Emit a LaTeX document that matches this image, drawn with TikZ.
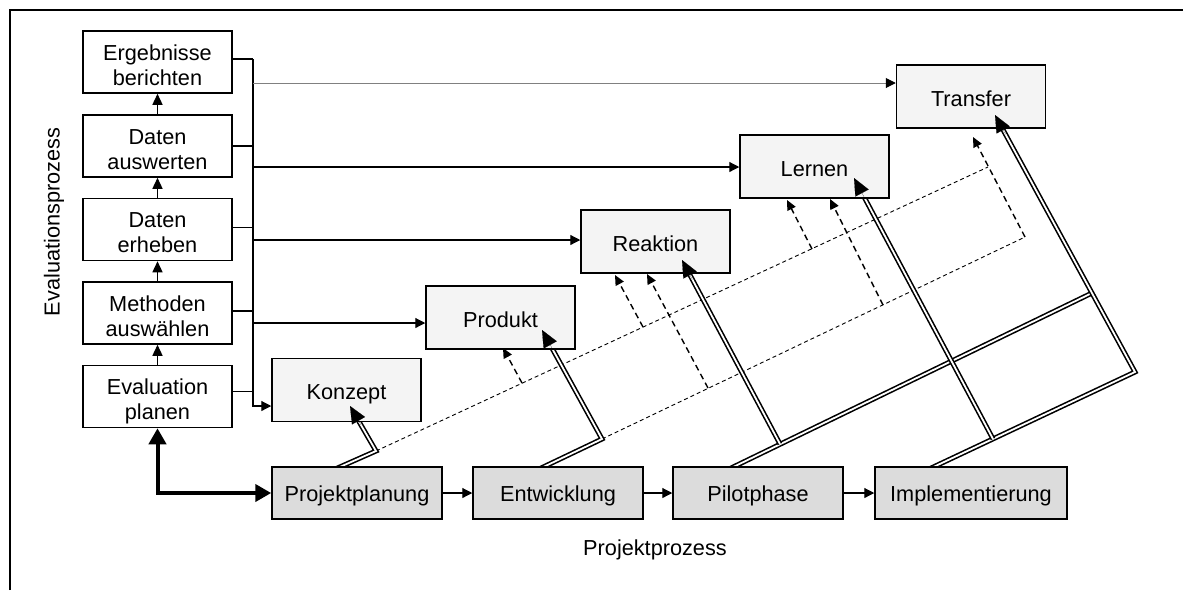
\documentclass[tikz,border=0pt]{standalone}
\usepackage{fontspec}
\setmainfont{Liberation Sans}
\usetikzlibrary{arrows.meta,calc}
\definecolor{levelfill}{HTML}{F4F4F4}
\definecolor{phasefill}{HTML}{DCDCDC}
\pgfdeclarelayer{bg}
\pgfsetlayers{bg,main}
\newcommand{\evtext}[2]{\begin{tabular}{@{}c@{}}\rule{0pt}{28.5pt}#1\\#2\end{tabular}}
\begin{document}
\begin{tikzpicture}[x=1pt,y=-1pt,
  every node/.style={font=\fontsize{21.7}{25}\selectfont, inner sep=0pt},
  evbox/.style={draw, line width=1.5pt, fill=white, minimum width=149pt, minimum height=62pt},
  lvbox/.style={draw, line width=1.5pt, fill=levelfill, minimum width=149pt, minimum height=63pt, text height=19.5pt, text depth=0pt},
  phbox/.style={draw, line width=1.5pt, fill=phasefill, minimum height=52pt, text height=17.6pt, text depth=0pt},
  thinarr/.style={line width=1.2pt, -{Triangle[length=10pt,width=10pt]}},
  uparr/.style={line width=1.3pt, -{Triangle[length=11pt,width=10pt]}},
  dbl/.style={line width=1.6pt, double=white, double distance=1.8pt},
  bigtip/.style={line width=0.1pt, -{Triangle[length=17pt,width=15pt]}},
  dasharr/.style={line width=1.4pt, dash pattern=on 6pt off 4pt, -{Triangle[length=10pt,width=9pt]}},
  dashthin/.style={line width=0.9pt, dash pattern=on 4pt off 3pt},
]
\useasboundingbox (0,0) rectangle (1183,590);
\begin{pgfonlayer}{bg}
  \fill[white] (0,0) rectangle (1183,590);
\end{pgfonlayer}
\draw[line width=1.5pt] (10,590) -- (10,10) -- (1183,10);

% evaluation process boxes
\node[evbox] (erg)  at (157.5,62)    {\evtext{Ergebnisse}{berichten}};
\node[evbox] (daus) at (157.5,146)   {\evtext{Daten}{auswerten}};
\node[evbox] (derh) at (157.5,229.5) {\evtext{Daten}{erheben}};
\node[evbox] (meth) at (157.5,313)   {\evtext{Methoden}{auswählen}};
\node[evbox] (evp)  at (157.5,396.5) {\evtext{Evaluation}{planen}};

% level boxes
\node[lvbox] (konz) at (346.5,390)   {Konzept};
\node[lvbox] (prod) at (500.5,317.5) {Produkt};
\node[lvbox] (reak) at (655.5,241.5) {Reaktion};
\node[lvbox] (lern) at (814.5,166.5) {Lernen};
\node[lvbox] (tran) at (971,96.5)    {Transfer};

% phase boxes
\node[phbox, minimum width=170pt] (pp)  at (357,493) {Projektplanung};
\node[phbox, minimum width=170pt] (ent) at (558,493) {Entwicklung};
\node[phbox, minimum width=170pt] (pil) at (758,493) {Pilotphase};
\node[phbox, minimum width=192pt] (imp) at (971,493) {Implementierung};

\node[rotate=90] (evlab) at (54,222) {Evaluationsprozess};
\node (pplab) at (655,550) {Projektprozess};

% coordinates
\coordinate (bustop) at (253,59);
\coordinate (busbot) at (253,406);
\coordinate (h1) at (253,83);
\coordinate (h2) at (253,167);
\coordinate (h3) at (253,240);
\coordinate (h4) at (253,323);

\coordinate (s1) at (333,470); \coordinate (c1) at (376,451); \coordinate (tK) at (350,406);
\coordinate (s2) at (537,470); \coordinate (c2) at (602,439); \coordinate (tP) at (542,330);
\coordinate (s3) at (727,470); \coordinate (j3) at (780,444); \coordinate (e3) at (1092,293); \coordinate (tR) at (682,260);
\coordinate (s4) at (927,470); \coordinate (j4) at (993,439); \coordinate (c4) at (1135,372);
\coordinate (tL) at (854,178); \coordinate (tT) at (995,115);
\coordinate (aE) at (988,167); \coordinate (bC) at (1025,237); \coordinate (tTd) at (973,137);
\coordinate (dP) at (522,383); \coordinate (tPd) at (503,348);
\coordinate (dR1) at (643,327); \coordinate (tR1) at (615,275);
\coordinate (dR2) at (708,388); \coordinate (tR2) at (647,274);
\coordinate (dL1) at (812,249); \coordinate (tL1) at (787,200);
\coordinate (dL2) at (883,305); \coordinate (tL2) at (830,199);

% evaluation chain
\draw[uparr] (evp.north) -- (meth.south);
\draw[uparr] (meth.north) -- (derh.south);
\draw[uparr] (derh.north) -- (daus.south);
\draw[uparr] (daus.north) -- (erg.south);

% bus
\draw[line width=1.5pt] ($(erg.east)+(0,-3)$) -- ($(erg.east -| bustop)+(0,-3)$);
\draw[line width=1.2pt] (daus.east) -- (daus.east -| bustop);
\draw[line width=1.2pt] ($(derh.east)+(0,-2)$) -- ($(derh.east -| bustop)+(0,-2)$);
\draw[line width=1.2pt] ($(meth.east)+(0,-2)$) -- ($(meth.east -| bustop)+(0,-2)$);
\draw[line width=1.2pt] ($(evp.east)+(0,-5)$) -- ($(evp.east -| bustop)+(0,-5)$);
\draw[thinarr] (bustop) -- (busbot) -- (busbot -| konz.west);
\draw[line width=1pt, draw=gray, -{Triangle[length=10pt,width=10pt,color=black]}] (h1) -- (h1 -| tran.west);
\draw[thinarr] (h2) -- (h2 -| lern.west);
\draw[thinarr] (h3) -- (h3 -| reak.west);
\draw[thinarr] (h4) -- (h4 -| prod.west);

% project chain
\draw[line width=4pt, {Triangle[length=16pt,width=17pt]}-{Triangle[length=16pt,width=17pt]}] (evp.south) |- (pp.west);
\draw[thinarr] (pp.east) -- (ent.west);
\draw[thinarr] (ent.east) -- (pil.west);
\draw[thinarr] (pil.east) -- (imp.west);

\begin{pgfonlayer}{bg}
  \draw[dashthin] (c1) -- (aE);
  \draw[dashthin] (c2) -- (bC);
  \draw[dbl] (s3) -- (e3);
  \draw[dbl, shorten >=8pt] (s4) -- (c4) -- (tT);
  \draw[dbl, shorten >=8pt] (s1) -- (c1) -- (tK);
  \draw[dbl, shorten >=8pt] (s2) -- (c2) -- (tP);
  \draw[dbl, shorten >=8pt] (j3) -- (tR);
  \draw[dbl, shorten >=8pt] (j4) -- (tL);
\end{pgfonlayer}

% dashed arrows
\draw[dasharr] (bC) -- (tTd);
\draw[dasharr] (dP) -- (tPd);
\draw[dasharr] (dR1) -- (tR1);
\draw[dasharr] (dR2) -- (tR2);
\draw[dasharr] (dL1) -- (tL1);
\draw[dasharr] (dL2) -- (tL2);

% big arrow tips
\draw[bigtip] ($(tK)!22pt!(c1)$) -- (tK);
\draw[bigtip] ($(tP)!22pt!(c2)$) -- (tP);
\draw[bigtip] ($(tR)!22pt!(j3)$) -- (tR);
\draw[bigtip] ($(tL)!22pt!(j4)$) -- (tL);
\draw[bigtip] ($(tT)!22pt!(c4)$) -- (tT);
\end{tikzpicture}
\end{document}
